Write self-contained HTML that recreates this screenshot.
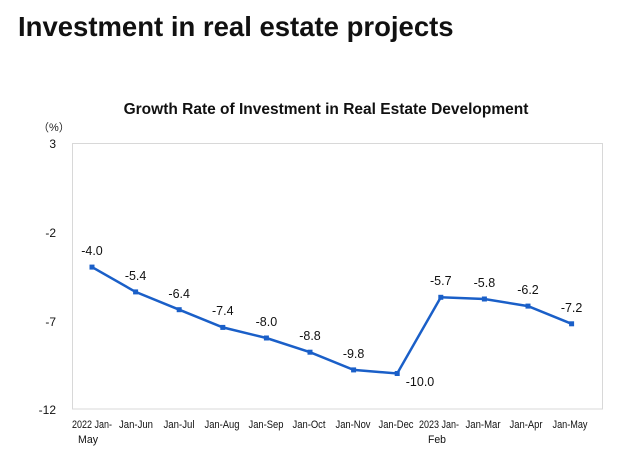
<!DOCTYPE html>
<html><head><style>
body{margin:0;background:#fff;width:620px;height:458px;overflow:hidden;font-family:"Liberation Sans",Arial,sans-serif}
</style></head><body>
<svg width="620" height="458" xmlns="http://www.w3.org/2000/svg" font-family="Liberation Sans, Arial, sans-serif">
<text x="18" y="36" font-size="27.5" font-weight="bold" fill="#111">Investment in real estate projects</text>
<text x="326" y="114" font-size="15.5" font-weight="bold" fill="#111" text-anchor="middle">Growth Rate of Investment in Real Estate Development</text>
<text x="38" y="131" font-size="11" fill="#222">（%）</text>
<rect x="72.5" y="143.5" width="530" height="265.5" fill="none" stroke="#d8d8d8"/>
<g font-size="12" fill="#111" text-anchor="end">
<text x="56" y="148">3</text><text x="56" y="237">-2</text><text x="56" y="326">-7</text><text x="56" y="414">-12</text>
</g>
<polyline points="92,267.1 135.6,291.9 179.2,309.7 222.8,327.4 266.4,338 310,352.2 353.6,369.9 397.2,373.5 440.8,297.3 484.4,299 528,306.1 571.6,323.8" fill="none" stroke="#1a5fc8" stroke-width="2.5"/>
<g fill="#1a5fc8">
<rect x="89.5" y="264.6" width="5" height="5"/><rect x="133.1" y="289.4" width="5" height="5"/><rect x="176.7" y="307.2" width="5" height="5"/><rect x="220.3" y="324.9" width="5" height="5"/><rect x="263.9" y="335.5" width="5" height="5"/><rect x="307.5" y="349.7" width="5" height="5"/><rect x="351.1" y="367.4" width="5" height="5"/><rect x="394.7" y="371" width="5" height="5"/><rect x="438.3" y="294.8" width="5" height="5"/><rect x="481.9" y="296.5" width="5" height="5"/><rect x="525.5" y="303.6" width="5" height="5"/><rect x="569.1" y="321.3" width="5" height="5"/>
</g>
<g font-size="12.5" fill="#111" text-anchor="middle">
<text x="92" y="255">-4.0</text><text x="135.6" y="280">-5.4</text><text x="179.2" y="298">-6.4</text><text x="222.8" y="315">-7.4</text><text x="266.4" y="326">-8.0</text><text x="310" y="340">-8.8</text><text x="353.6" y="358">-9.8</text><text x="420" y="386">-10.0</text><text x="440.8" y="285">-5.7</text><text x="484.4" y="287">-5.8</text><text x="528" y="294">-6.2</text><text x="571.6" y="312">-7.2</text>
</g>
<g font-size="11" fill="#111" text-anchor="middle" lengthAdjust="spacingAndGlyphs">
<text x="92" y="428" textLength="40" lengthAdjust="spacingAndGlyphs">2022 Jan-</text><text x="88" y="443" textLength="20" lengthAdjust="spacingAndGlyphs">May</text>
<text x="136" y="428" textLength="34" lengthAdjust="spacingAndGlyphs">Jan-Jun</text><text x="179" y="428" textLength="31" lengthAdjust="spacingAndGlyphs">Jan-Jul</text><text x="222" y="428" textLength="35" lengthAdjust="spacingAndGlyphs">Jan-Aug</text><text x="266" y="428" textLength="35" lengthAdjust="spacingAndGlyphs">Jan-Sep</text><text x="309" y="428" textLength="33" lengthAdjust="spacingAndGlyphs">Jan-Oct</text><text x="353" y="428" textLength="35" lengthAdjust="spacingAndGlyphs">Jan-Nov</text><text x="396" y="428" textLength="35" lengthAdjust="spacingAndGlyphs">Jan-Dec</text>
<text x="439" y="428" textLength="40" lengthAdjust="spacingAndGlyphs">2023 Jan-</text><text x="437" y="443" textLength="18" lengthAdjust="spacingAndGlyphs">Feb</text>
<text x="483" y="428" textLength="35" lengthAdjust="spacingAndGlyphs">Jan-Mar</text><text x="526" y="428" textLength="33" lengthAdjust="spacingAndGlyphs">Jan-Apr</text><text x="570" y="428" textLength="35" lengthAdjust="spacingAndGlyphs">Jan-May</text>
</g>
</svg>
</body></html>
